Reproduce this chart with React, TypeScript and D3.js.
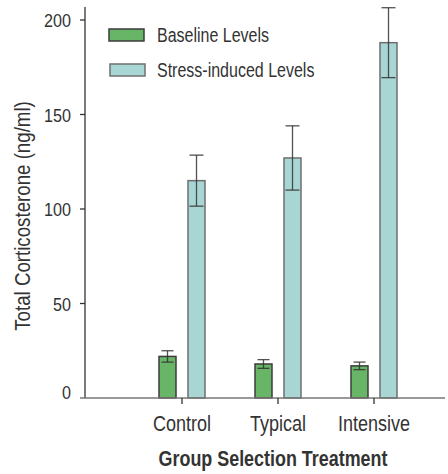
import { useEffect, useRef } from 'react';
import * as d3 from 'd3';

const groups = ['Control', 'Typical', 'Intensive'];
const seriesKeys = ['baseline', 'stress'];
const seriesNames = ['Baseline Levels', 'Stress-induced Levels'];
const baselineValues = [22, 18, 17];
const baselineErrors = [3, 2.3, 2];
const stressValues = [115, 127, 188];
const stressErrors = [13.5, 17, 18.5];
const yTicks = [0, 50, 100, 150, 200];

const FONT = "'Liberation Sans', Arial, sans-serif";

export default function App() {
  const svgRef = useRef<SVGSVGElement>(null);

  useEffect(() => {
    if (!svgRef.current) return;
    const svg = d3.select(svgRef.current);
    svg.selectAll('*').remove();

    const width = 448;
    const height = 474;
    svg.attr('width', width).attr('height', height);

    // narrow-looking text: regular sans squeezed horizontally
    const label = (tx: number, ty: number, str: string, size: number, sx: number, anchor = 'start', rotate = 0) =>
      svg.append('text')
        .attr('transform', `translate(${tx},${ty})${rotate ? ` rotate(${rotate})` : ''} scale(${sx},1)`)
        .attr('text-anchor', anchor)
        .attr('font-family', FONT)
        .attr('font-size', size)
        .attr('fill', '#333')
        .text(str);

    const axisX = 85;
    const y = d3.scaleLinear().domain([0, 200]).range([398, 20]);
    const x = d3.scaleBand<string>().domain(groups).range([134, 422]);
    const xInner = d3.scaleBand<string>().domain(seriesKeys).range([25, 71]).paddingInner(0.414);

    const fills: Record<string, string> = { baseline: '#68b567', stress: '#a8d6d4' };
    const strokes: Record<string, string> = { baseline: '#3c3c3c', stress: '#6f6f6f' };

    const rows = groups.map((g, i) => ({
      group: g,
      bars: [
        { key: 'baseline', value: baselineValues[i], err: baselineErrors[i] },
        { key: 'stress', value: stressValues[i], err: stressErrors[i] },
      ],
    }));

    // y axis
    svg.append('line')
      .attr('x1', axisX).attr('x2', axisX)
      .attr('y1', 7).attr('y2', y(0))
      .attr('stroke', '#333').attr('stroke-width', 1.3);

    yTicks.forEach((t) => {
      if (t > 0) {
        svg.append('line')
          .attr('x1', axisX - 5).attr('x2', axisX)
          .attr('y1', y(t)).attr('y2', y(t))
          .attr('stroke', '#333').attr('stroke-width', 1.3);
      }
      label(71, y(t) - (t === 0 ? 6 : 0) + 7, String(t), 19, 0.85, 'end');
    });

    // bars
    rows.forEach((row) => {
      const gx = x(row.group)!;
      row.bars.forEach((b) => {
        const bx = gx + xInner(b.key)!;
        const bw = xInner.bandwidth();
        svg.append('rect')
          .attr('x', bx)
          .attr('y', y(b.value))
          .attr('width', bw)
          .attr('height', y(0) - y(b.value))
          .attr('fill', fills[b.key])
          .attr('stroke', strokes[b.key])
          .attr('stroke-width', 1.5);

        // error bar
        const cx = bx + bw / 2;
        const cap = b.key === 'stress' ? 7 : 6;
        const eg = svg.append('g').attr('stroke', '#333').attr('stroke-width', 1.3).attr('stroke-opacity', 0.85);
        eg.append('line').attr('x1', cx).attr('x2', cx).attr('y1', y(b.value + b.err)).attr('y2', y(b.value - b.err));
        eg.append('line').attr('x1', cx - cap).attr('x2', cx + cap).attr('y1', y(b.value + b.err)).attr('y2', y(b.value + b.err));
        eg.append('line').attr('x1', cx - cap).attr('x2', cx + cap).attr('y1', y(b.value - b.err)).attr('y2', y(b.value - b.err));
      });
    });

    // x axis
    svg.append('line')
      .attr('x1', 80).attr('x2', 445)
      .attr('y1', y(0)).attr('y2', y(0))
      .attr('stroke', '#777').attr('stroke-width', 1.5);

    groups.forEach((g) => {
      const cx = x(g)! + x.bandwidth() / 2;
      svg.append('line')
        .attr('x1', cx).attr('x2', cx)
        .attr('y1', y(0)).attr('y2', y(0) + 6)
        .attr('stroke', '#333').attr('stroke-width', 1.3);
      label(cx, 431, g, 22, 0.82, 'middle');
    });

    // axis titles
    const [r0, r1] = x.range();
    label((r0 + r1) / 2 - 5, 466, 'Group Selection Treatment', 22, 0.815, 'middle')
      .attr('font-weight', 'bold');

    label(30, (y(0) + y(200)) / 2 + 7, 'Total Corticosterone (ng/ml)', 22, 0.85, 'middle', -90);

    // legend
    seriesKeys.forEach((k, i) => {
      const ly = 29 + i * 35;
      svg.append('rect')
        .attr('x', 109 + i)
        .attr('y', ly)
        .attr('width', 35)
        .attr('height', 12)
        .attr('fill', fills[k])
        .attr('stroke', strokes[k])
        .attr('stroke-width', 1.5);
      label(157, ly + 13, seriesNames[i], 20, 0.8);
    });
  }, []);

  return (
    <div style={{ position: 'absolute', left: 0, top: 0 }}>
      <svg ref={svgRef} style={{ display: 'block', background: '#fff' }}></svg>
    </div>
  );
}
